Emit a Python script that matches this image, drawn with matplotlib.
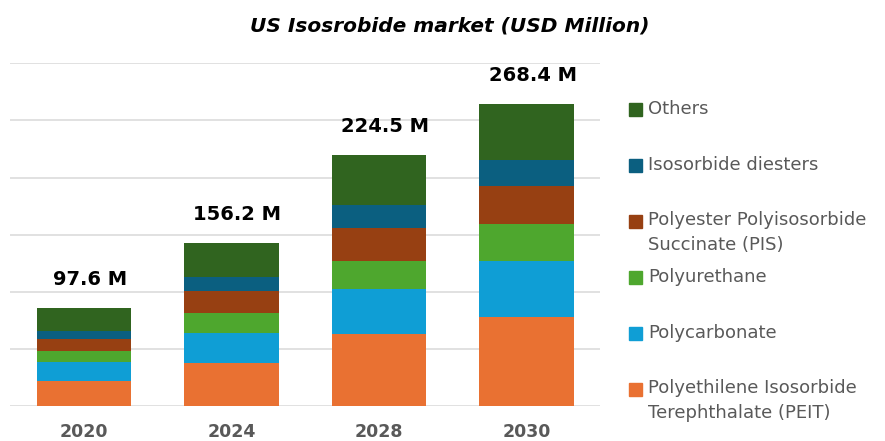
import matplotlib.pyplot as plt
import matplotlib.patches as mpatches
import numpy as np

plt.rcParams['font.family'] = ['DejaVu Sans']

years = ['2020', '2024', '2028', '2030']
total_labels = ['97.6 M', '156.2 M', '224.5 M', '268.4 M']

# segment values, bottom to top
peit = [21.9, 37.4, 63.3, 78.0]
polycarbonate = [16.9, 26.3, 38.9, 49.1]
polyurethane = [9.4, 17.5, 24.8, 32.1]
pis = [10.2, 19.5, 29.2, 33.6]
diesters = [7.3, 12.0, 19.6, 22.5]
others = [19.9, 29.8, 44.1, 49.1]

series = [peit, polycarbonate, polyurethane, pis, diesters, others]
names = ['Polyethilene Isosorbide\nTerephthalate (PEIT)', 'Polycarbonate', 'Polyurethane',
         'Polyester Polyisosorbide\nSuccinate (PIS)', 'Isosorbide diesters', 'Others']
colors = ['#E97132', '#0F9ED5', '#4EA72E', '#974012', '#0B5F80', '#30641F']

fig = plt.figure(figsize=(8.85, 4.41), dpi=100)
ax = fig.add_axes([0.0113, 0.0794, 0.667, 0.7771])

x = np.arange(len(years))
bottom = np.zeros(len(years))
for vals, c in zip(series, colors):
    ax.bar(x, vals, width=0.64, bottom=bottom, color=c, linewidth=0, zorder=3)
    bottom += np.array(vals)

for xi, tot, lab in zip(x, bottom, total_labels):
    ax.annotate(lab, (xi, tot), xytext=(6, 19), textcoords='offset pixels',
                ha='center', va='bottom', fontsize=14, fontweight='bold', color='black')

ax.set_xlim(-0.5, 3.5)
ax.set_ylim(0, 300)
ax.set_yticks(np.arange(0, 301, 50))
ax.yaxis.grid(True, color='#D9D9D9', linewidth=1.1, zorder=0)
ax.set_yticklabels([])
ax.tick_params(axis='y', length=0)
ax.tick_params(axis='x', length=0, pad=12)
ax.set_xticks(x)
ax.set_xticklabels(years, fontsize=12.5, fontweight='bold', color='#595959')
for s in ax.spines.values():
    s.set_visible(False)

fig.text(0.508, 0.94, 'US Isosrobide market (USD Million)', ha='center', va='center',
         fontsize=14.5, fontweight='bold', fontstyle='italic', color='black')

# legend, top to bottom
W, H = 885, 441
y0 = 109
for i, (name, c) in enumerate(zip(names[::-1], colors[::-1])):
    yc = y0 + i * 56
    fig.patches.append(mpatches.Rectangle(((629) / W, (H - yc - 6.5) / H), 13 / W, 13 / H,
                                          transform=fig.transFigure, color=c))
    if '\n' in name:
        fig.text(648 / W, (H - yc + 10) / H, name, ha='left', va='top',
                 fontsize=13, color='#595959', linespacing=1.5)
    else:
        fig.text(648 / W, (H - yc) / H, name, ha='left', va='center',
                 fontsize=13, color='#595959')

fig.savefig('out.png', dpi=100)
